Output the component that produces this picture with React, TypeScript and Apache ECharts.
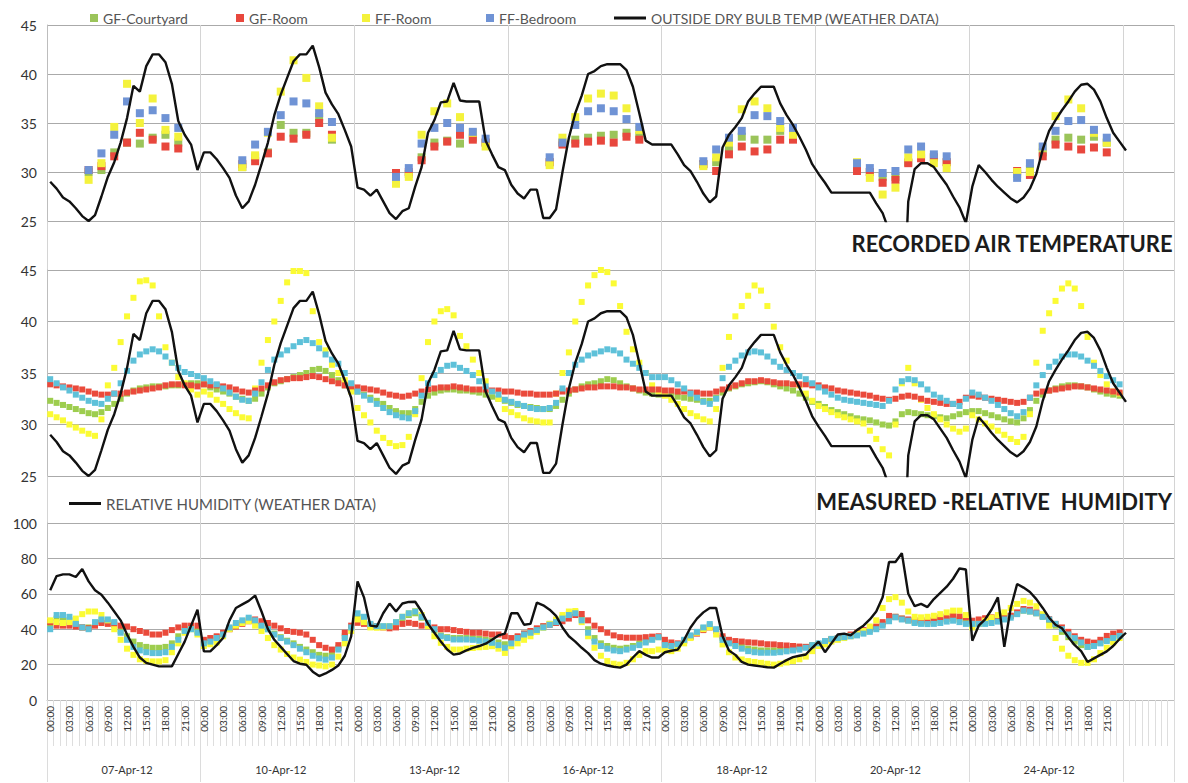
import React, { useEffect, useRef } from 'react';
import * as echarts from 'echarts';

// ---------- categories ----------
const DAYS = ['07-Apr-12', '10-Apr-12', '13-Apr-12', '16-Apr-12', '18-Apr-12', '20-Apr-12', '24-Apr-12'];
const HOUR_LABELS = [
  '00:00', '01:00', '02:00', '03:00', '04:00', '05:00', '06:00', '07:00', '08:00', '09:00', '10:00', '11:00',
  '12:00', '13:00', '14:00', '15:00', '16:00', '17:00', '18:00', '19:00', '20:00', '21:00', '22:00', '23:00',
];
const EMPTY_SLOTS = 8; // unlabeled hourly slots after the last day
const TEMP_TICKS = { min: 25, max: 45, step: 5 };
const RH_TICKS = { min: 0, max: 100, step: 20 };

// ---------- top panel: 2-hourly spot readings (°C) ----------
const SPOT_HOURS = [
  [6, 8, 10, 12, 14, 16, 18, 20],
  [6, 8, 10, 12, 14, 16, 18, 20],
  [6, 8, 10, 12, 14, 16, 18, 20],
  [6, 8, 10, 12, 14, 16, 18, 20],
  [6, 8, 10, 12, 14, 16, 18, 20],
  [6, 8, 10, 12, 14, 16, 18, 20],
  [7, 9, 11, 13, 15, 17, 19, 21],
];
const SPOT_GF_COURTYARD = [
  [30.0, 30.2, 32.0, 33.0, 32.9, 33.5, 33.8, 33.0],
  [30.5, 31.5, 32.0, 34.8, 34.0, 34.0, 35.6, 33.3],
  [29.0, 29.8, 31.5, 33.0, 33.2, 32.9, 33.5, 33.0],
  [31.0, 33.0, 33.3, 33.5, 33.7, 33.8, 34.0, 33.7],
  [30.8, 31.0, 32.5, 33.6, 33.3, 33.3, 34.2, 33.5],
  [30.5, 30.0, 29.5, 29.5, 31.0, 31.8, 31.5, 31.0],
  [29.8, 30.3, 32.0, 33.3, 33.5, 33.3, 33.6, 33.0],
];
const SPOT_GF_ROOM = [
  [30.2, 30.6, 31.6, 33.0, 34.0, 33.3, 32.6, 32.4],
  [30.8, 31.1, 31.9, 33.6, 33.4, 33.8, 35.0, 33.8],
  [29.9, 30.0, 31.2, 32.6, 33.1, 33.8, 33.3, 33.0],
  [31.0, 32.8, 32.9, 33.1, 33.2, 33.0, 33.6, 33.3],
  [30.8, 30.1, 31.8, 32.6, 32.1, 32.3, 33.3, 33.3],
  [30.1, 30.0, 28.9, 29.2, 30.9, 31.4, 31.5, 31.0],
  [30.1, 29.7, 31.6, 32.8, 32.6, 32.3, 32.5, 32.0],
];
const SPOT_FF_ROOM = [
  [29.2, 30.9, 34.6, 39.0, 35.0, 37.5, 34.3, 33.6],
  [30.5, 31.7, 34.0, 38.2, 41.4, 39.6, 36.7, 33.5],
  [28.8, 29.5, 33.8, 36.2, 37.0, 35.6, 34.0, 32.6],
  [30.7, 33.5, 35.6, 37.5, 38.0, 37.8, 36.5, 34.3],
  [30.6, 31.5, 33.0, 36.4, 37.2, 36.5, 34.5, 33.8],
  [31.0, 29.4, 27.7, 28.4, 31.5, 31.8, 30.9, 30.4],
  [30.0, 30.0, 32.5, 35.7, 37.4, 36.5, 34.0, 33.0],
];
const SPOT_FF_BEDROOM = [
  [30.2, 31.9, 33.8, 37.2, 36.0, 36.3, 35.5, 34.5],
  [31.2, 32.8, 34.1, 35.8, 37.2, 37.0, 36.0, 35.1],
  [29.5, 30.4, 32.9, 34.5, 35.0, 34.5, 34.1, 33.4],
  [31.5, 33.0, 34.8, 36.2, 36.5, 36.2, 35.4, 34.6],
  [31.1, 32.3, 33.5, 34.2, 35.8, 35.7, 35.2, 34.5],
  [30.9, 30.4, 29.9, 30.1, 32.3, 32.6, 31.8, 31.6],
  [29.4, 30.9, 32.6, 34.2, 35.2, 35.3, 34.3, 33.5],
];

// ---------- outside dry bulb temperature, hourly (°C) ----------
const OUTSIDE_TEMP = [
  29, 28.3, 27.4, 27, 26.3, 25.5, 25, 25.6, 27.5, 29.5, 31, 33, 35.5, 38.8, 38.2, 40.8, 42, 42, 41.2, 39, 35.2, 33.8, 32.8, 30.2,
  32, 32, 31.3, 30.4, 29.4, 27.6, 26.3, 27, 28.7, 30.8, 33, 35.8, 37.9, 39.6, 41.3, 42, 42, 42.9, 40.7, 38.1, 36.9, 35.9, 34.3, 32.6,
  28.4, 28.2, 27.6, 28.2, 27, 25.8, 25.2, 26, 26.3, 28.5, 30.5, 34, 35.3, 37.1, 37.2, 39.1, 37.3, 37.2, 37.2, 37.2, 33.2, 31.8, 30.5, 30.2,
  28.7, 27.8, 27.3, 28.2, 28.2, 25.3, 25.3, 26.2, 30, 33.5, 36, 37.8, 40, 40.3, 40.8, 41, 41, 41, 40.4, 38.7, 36, 33.2, 32.8, 32.8,
  32.8, 32.8, 31.8, 30.7, 30.1, 29.0, 27.8, 26.9, 27.5, 32.5, 33.8, 34.6, 35.5, 37.2, 38, 38.7, 38.7, 38.7, 37, 35.8, 34.8, 33.6, 32.3, 30.8,
  29.8, 28.9, 27.9, 27.9, 27.9, 27.9, 27.9, 27.9, 27.9, 26.8, 25.8, 24, 12, 12, 27, 30.3, 30.9, 30.9, 30.5, 29.6, 28.7, 27.5, 26.4, 24.8,
  28.5, 30.7, 30, 29.2, 28.5, 27.9, 27.3, 26.9, 27.4, 28.3, 29.8, 32.3, 34.2, 35.3, 36.3, 37.2, 38.2, 38.9, 39.0, 38.4, 37.2, 35.5, 34.0, 33.1,
  32.2,
];

// ---------- middle panel: hourly air temperature (°C) ----------
const GF_COURTYARD_T = [
  32.3, 32.1, 31.9, 31.7, 31.5, 31.3, 31.1, 31.0, 31.2, 31.6, 32.0, 32.5, 33.0, 33.3, 33.5, 33.6, 33.7, 33.7, 33.7, 33.8, 33.8, 33.9, 34.0, 34.0,
  33.9, 33.6, 33.4, 33.2, 33.0, 32.7, 32.5, 32.3, 32.5, 33.0, 33.6, 34.0, 34.2, 34.4, 34.6, 34.8, 35.0, 35.3, 35.4, 35.2, 34.8, 34.3, 33.8, 33.4,
  33.2, 32.9, 32.6, 32.3, 32.0, 31.6, 31.3, 31.1, 31.1, 31.5, 32.2, 32.8, 33.1, 33.3, 33.4, 33.4, 33.3, 33.3, 33.2, 33.1, 32.9, 32.7, 32.5, 32.3,
  32.1, 31.9, 31.8, 31.7, 31.6, 31.5, 31.5, 31.8, 32.4, 33.0, 33.4, 33.7, 33.9, 34.0, 34.2, 34.4, 34.3, 34.0, 33.7, 33.5, 33.3, 33.1, 33.0, 32.9,
  32.9, 32.8, 32.7, 32.6, 32.5, 32.4, 32.3, 32.3, 32.6, 33.1, 33.5, 33.7, 33.9, 34.0, 34.1, 34.2, 34.1, 33.9, 33.7, 33.5, 33.3, 33.0, 32.6, 32.2,
  32.0, 31.7, 31.4, 31.2, 31.0, 30.8, 30.6, 30.5, 30.4, 30.2, 30.0, 29.9, 30.3, 31.0, 31.2, 31.1, 31.0, 30.9, 30.8, 30.7, 30.6, 30.8, 31.0, 31.2,
  31.3, 31.3, 31.1, 30.9, 30.7, 30.5, 30.3, 30.2, 30.6, 31.4, 32.3, 32.9, 33.3, 33.5, 33.7, 33.8, 33.8, 33.7, 33.6, 33.4, 33.2, 33.0, 32.9, 32.8,
];
const GF_ROOM_T = [
  33.9, 33.8, 33.7, 33.6, 33.5, 33.4, 33.2, 33.0, 32.9, 32.9, 33.0, 33.0, 33.1, 33.2, 33.3, 33.4, 33.5, 33.6, 33.8, 33.9, 33.9, 33.8, 33.8, 33.7,
  33.9, 33.8, 33.8, 33.7, 33.6, 33.4, 33.2, 33.1, 33.3, 33.5, 33.8, 34.1, 34.3, 34.4, 34.5, 34.5, 34.6, 34.7, 34.6, 34.4, 34.2, 34.0, 33.8, 33.7,
  33.6, 33.5, 33.4, 33.3, 33.1, 32.9, 32.8, 32.7, 32.8, 33.0, 33.2, 33.4, 33.5, 33.6, 33.6, 33.7, 33.6, 33.5, 33.4, 33.4, 33.4, 33.3, 33.3, 33.2,
  33.2, 33.1, 33.0, 33.0, 32.9, 32.9, 32.9, 33.0, 33.2, 33.3, 33.4, 33.5, 33.6, 33.6, 33.7, 33.7, 33.7, 33.6, 33.6, 33.5, 33.4, 33.4, 33.4, 33.4,
  33.3, 33.3, 33.2, 33.2, 33.1, 33.1, 33.0, 33.0, 33.2, 33.4, 33.6, 33.8, 34.0, 34.2, 34.2, 34.3, 34.2, 34.1, 34.0, 34.0, 33.9, 33.9, 33.9, 33.8,
  33.8, 33.6, 33.5, 33.3, 33.2, 33.1, 33.0, 32.9, 32.8, 32.6, 32.5, 32.4, 32.5, 32.7, 32.8, 32.7, 32.5, 32.3, 32.2, 32.1, 32.0, 32.0, 32.2, 32.6,
  32.8, 32.7, 32.6, 32.5, 32.4, 32.3, 32.2, 32.1, 32.2, 32.6, 33.0, 33.2, 33.3, 33.4, 33.5, 33.6, 33.7, 33.7, 33.6, 33.5, 33.4, 33.3, 33.2, 33.1,
];
const FF_ROOM_T = [
  31.0, 30.7, 30.4, 30.0, 29.7, 29.4, 29.1, 28.9, 30.5, 33.8, 35.5, 38.0, 40.5, 42.3, 43.9, 44.0, 43.5, 40.5, 37.5, 36.0, 34.6, 34.0, 33.4, 32.9,
  33.2, 32.9, 32.4, 32.0, 31.5, 31.1, 30.7, 30.6, 33.5, 36.0, 38.2, 40.0, 42.0, 43.8, 44.9, 44.9, 44.7, 41.0, 38.0, 37.2, 35.8, 35.0, 34.3, 33.2,
  31.6, 30.9, 30.2, 29.4, 28.7, 28.2, 27.9, 28.0, 28.8, 31.0, 34.5, 38.0, 40.0, 41.0, 41.2, 40.6, 38.6, 37.6, 36.3, 35.0, 34.2, 33.2, 32.5, 31.5,
  31.2, 30.9, 30.6, 30.4, 30.3, 30.2, 30.2, 33.0, 35.0, 37.0, 40.0, 41.9, 43.5, 44.5, 45.0, 44.8, 43.7, 41.5, 39.0, 37.3, 36.0, 35.0, 33.8, 33.2,
  32.8, 32.4, 32.0, 31.5, 31.1, 30.8, 30.5, 30.3, 31.5, 35.5, 38.5, 40.5, 41.5, 42.5, 43.5, 43.0, 41.5, 39.5, 37.5, 36.2, 35.0, 33.8, 33.0, 32.3,
  31.8, 31.5, 31.2, 30.9, 30.7, 30.5, 30.3, 30.1, 29.4, 28.6, 27.6, 27.0, 30.0, 34.0, 35.5, 34.0, 32.4, 31.6, 31.0, 30.5, 30.0, 29.6, 29.3, 29.6,
  30.9, 30.5, 30.1, 29.8, 29.4, 29.0, 28.6, 28.3, 28.8, 31.0, 36.0, 39.1, 40.8, 42.0, 43.2, 43.7, 43.2, 41.5, 38.5, 36.0, 34.8, 33.9, 33.2, 33.0,
];
const FF_BEDROOM_T = [
  34.4, 34.0, 33.6, 33.3, 32.9, 32.6, 32.3, 32.1, 32.0, 32.5, 33.0, 34.0, 35.2, 36.2, 36.8, 37.1, 37.3, 37.1, 36.6, 36.0, 35.5, 35.1, 34.9, 34.7,
  34.5, 34.2, 33.9, 33.5, 33.1, 32.7, 32.4, 32.3, 33.0, 34.1, 35.3, 36.3, 36.8, 37.2, 37.6, 38.0, 38.2, 37.9, 37.4, 36.8, 36.3, 35.9, 35.0, 34.0,
  33.2, 32.8, 32.4, 32.0, 31.6, 31.2, 30.9, 30.7, 30.6, 31.3, 32.8, 34.0, 34.8, 35.3, 35.7, 35.8, 35.5, 35.2, 34.8, 34.2, 33.7, 33.2, 32.9, 32.4,
  32.2, 32.0, 31.8, 31.6, 31.5, 31.5, 31.6, 32.1, 33.5, 35.0, 35.8, 36.3, 36.7, 36.9, 37.1, 37.3, 37.2, 36.9, 36.3, 35.9, 35.5, 35.0, 34.6, 34.6,
  34.6, 34.3, 33.9, 33.5, 33.0, 32.6, 32.2, 32.0, 32.5, 34.5, 35.6, 36.2, 36.7, 37.0, 37.1, 37.0, 36.6, 36.1, 35.6, 35.3, 35.0, 34.7, 34.4, 34.0,
  33.6, 33.2, 32.9, 32.6, 32.4, 32.3, 32.2, 32.1, 32.0, 31.9, 31.8, 32.3, 33.4, 34.2, 34.4, 34.3, 33.9, 33.4, 32.9, 32.6, 32.3, 32.0, 31.8, 32.5,
  33.1, 32.9, 32.6, 32.3, 31.9, 31.5, 31.1, 30.8, 31.2, 32.6, 33.8, 34.8, 35.6, 36.1, 36.6, 36.8, 36.8, 36.6, 36.2, 35.7, 35.2, 34.7, 34.3, 33.9,
];

// ---------- bottom panel: relative humidity, hourly (%) ----------
const OUTSIDE_RH = [
  62, 70, 71, 71, 69.5, 74, 67, 62, 59.5, 55, 50, 45, 37, 30, 24, 21, 20, 19, 19, 19, 26, 33, 42, 51,
  27.5, 27.5, 31, 35, 45, 52, 54, 56, 59, 50, 40, 34, 30, 26, 22, 20.5, 19.9, 16, 13.5, 15, 17, 19.5, 25, 36,
  67, 58, 42, 41.5, 49, 54.5, 50, 54.5, 55.4, 55.5, 50, 43, 38, 33, 28.5, 25.6, 26.3, 28, 29.5, 30.5, 31.8, 34, 36.5, 37.5,
  49, 49, 42.5, 43, 55, 53.5, 51, 47.5, 41, 36, 33, 29.5, 26.5, 22.5, 20.5, 19.5, 18.8, 18.3, 20, 24, 27.6, 25.5, 24, 24,
  27, 27.8, 28.5, 34, 41, 46, 49.5, 52, 52, 36, 28, 25.5, 21.5, 20, 19.5, 19, 18.5, 18.3, 20.5, 22.5, 24.2, 25, 25.7, 29.5,
  33, 27, 32, 37, 37.5, 36.5, 39.5, 42, 45.5, 50, 58, 78, 78, 83, 60, 53, 54.3, 52.5, 57, 60.5, 64, 68.5, 74.3, 73.7,
  33.5, 42, 45.5, 51, 58, 30, 52, 65.5, 63.5, 61, 57, 52, 46.5, 42.5, 40.5, 35.5, 31, 27.6, 21.5, 23.5, 25.5, 27.5, 30.5, 34.5,
  38,
];
const GF_COURTYARD_RH = [
  42, 46, 46, 45, 43, 41, 41, 43, 44.5, 44.5, 43.5, 39, 36, 33, 31, 30, 29.5, 29.5, 30, 32, 36, 40, 41, 39,
  33, 34, 35.5, 37.5, 40.5, 42.5, 44, 45.5, 44.5, 42, 40, 37.5, 35.5, 33.5, 32, 30, 28.5, 27, 25.5, 25, 26, 29.5, 36, 41,
  47, 45.5, 42.5, 41.5, 41.5, 41.5, 43.5, 46, 48, 49, 46.5, 43, 39.5, 36.5, 35.5, 35, 35, 35, 34.8, 34.5, 34, 33.5, 32.5, 31.5,
  33, 35.5, 37.5, 38.5, 40, 41.5, 43, 44.5, 46.5, 48.5, 49.5, 46, 40, 35, 32, 30.5, 29.5, 29, 29.5, 30.5, 32, 33.5, 34.5, 35.5,
  32, 31, 31.5, 33.5, 36, 38, 40.5, 42, 39.5, 35, 33, 31.5, 30, 29, 28.5, 28, 28, 28, 28.3, 28.6, 29, 29.5, 30, 31,
  31.5, 33, 34.5, 35, 35.8, 36.5, 37.2, 38.3, 39.5, 41, 43, 45.5, 47, 46, 45, 44, 43.8, 43.8, 44.3, 45, 45.8, 46.2, 45.5, 44.5,
  42, 43, 44, 44.5, 45.5, 46.5, 47.5, 49, 50.5, 50, 49, 47, 45, 42, 38.5, 35.5, 33, 31, 30, 30.8, 32.5, 34, 35.5, 37,
];
const GF_ROOM_RH = [
  44, 42, 42, 42, 41.5, 41, 40.5, 42, 43.5, 43, 42.5, 42, 41.5, 40, 39, 38, 37, 37, 38, 39.5, 41, 42, 42, 42,
  34, 35, 36, 38, 40, 41.5, 43, 44.5, 45.5, 44.5, 43.5, 42, 40.5, 39, 38.5, 38, 37, 34, 31, 29.5, 28.5, 31, 38, 42,
  43.6, 43, 42, 41.7, 41, 40.5, 41, 43, 43.6, 43, 42, 41.7, 41, 40, 40, 39.5, 38.9, 38.5, 38, 38, 37.5, 37, 37, 36,
  35, 36, 37.5, 39, 40.5, 41.7, 42.5, 43.5, 44.5, 46, 48, 48.6, 45, 42, 40, 38, 36.5, 35.5, 35.2, 35.2, 35.2, 35.5, 35.8, 36,
  34, 32.5, 32, 33.5, 35.5, 37.5, 39.5, 41, 39, 36, 34, 33.3, 33, 32.6, 32.4, 32, 31.5, 31.4, 31, 30.8, 30.5, 30.2, 30, 30.5,
  31, 33, 34, 35, 36, 37, 38, 39.5, 40.5, 41.5, 44, 47.5, 47, 46, 45.5, 45, 44.8, 45, 46, 46.7, 47.2, 47.6, 47.2, 46.7,
  44.8, 45.5, 46.2, 46.7, 47, 47.3, 47.6, 49.5, 51.4, 51, 49.5, 47.5, 45.7, 43, 41, 38.5, 36, 34, 33, 32.4, 34, 36.2, 37.5, 38.1,
];
const FF_ROOM_RH = [
  45, 44, 43.5, 44, 46, 48.5, 50, 50, 48, 45, 40, 34, 29, 25.5, 23, 22, 21.8, 21.8, 22.5, 27, 32, 38, 40, 37,
  30.5, 31.5, 32.5, 36, 40, 42, 43.5, 44.5, 42, 39, 35, 31, 28.5, 26, 24, 22.8, 21.5, 20, 19.5, 19, 20, 24.5, 32, 39,
  45.5, 44, 41, 40.8, 41, 41.7, 44, 47, 49, 50.3, 48, 41.7, 36, 32.3, 30, 28.5, 28.5, 29, 29.4, 29.8, 30, 30.4, 29, 26.6,
  30.4, 32, 34, 36, 38.5, 40.8, 43, 45.5, 48, 50, 50.3, 44, 36, 29.5, 25, 22, 20.5, 20, 21, 23, 25.5, 27.6, 27.6, 28.5,
  28, 27.6, 29, 32, 35, 38, 40, 41, 37, 31.4, 27, 24, 22.9, 22, 21.5, 21, 20.5, 20, 20.5, 21.2, 22, 23, 24.5, 27.6,
  30.5, 31.4, 33, 34, 35, 36, 37.5, 39, 41.5, 45, 52, 57, 58.1, 55, 50, 47, 46.7, 47, 47.6, 48.5, 49.5, 50.5, 50.5, 48,
  41, 43, 44.8, 46.5, 48, 49.5, 52, 54.3, 56, 55, 53, 48.5, 42, 35, 29, 25, 22.5, 21, 21, 23, 26.5, 29.5, 32.5, 35,
];
const FF_BEDROOM_RH = [
  40, 48, 48, 47, 43, 41, 40, 44, 45.5, 45.5, 44, 38, 34, 30, 28, 27, 26.5, 26.5, 27, 30, 34, 39, 40, 38,
  32, 33, 35, 37, 41, 43.5, 45, 46.5, 45, 42, 40, 37, 35, 33, 31, 29, 27, 25, 23.5, 22.8, 24, 28.5, 35, 41,
  49, 47, 43, 41.7, 41.7, 41.7, 44, 47, 49, 50, 47, 43.6, 40, 36, 35, 34.2, 34.2, 34.2, 34, 33.5, 33, 32.3, 31, 29.5,
  32, 35, 37, 38, 39.5, 41, 42.5, 44, 46, 48, 49, 45, 38, 33, 30.5, 29, 28, 27.6, 28.5, 29.5, 31, 32.5, 34, 35.5,
  31, 30.5, 31.5, 34, 36.5, 38.5, 41, 42.9, 40, 34, 32, 30.5, 29, 27.6, 27, 26.7, 26.7, 26.7, 27, 27.5, 28, 28.5, 29.5, 31,
  32, 33.3, 34.5, 35, 35.5, 36, 36.5, 37.5, 38.5, 40, 42, 44.5, 46.7, 45.5, 44.8, 43.5, 43, 42.9, 43, 43.5, 44.3, 44.8, 44, 43,
  43, 43, 43, 43.5, 44.3, 45.5, 46.5, 48.5, 50.5, 50, 49, 47, 45.5, 43, 40, 37, 35, 32.5, 30, 30.5, 32, 33.3, 35, 36.2,
];

// ---------- layout / style ----------
const FONT = 'Lato, "Noto Sans", "DejaVu Sans", sans-serif';
const W = 1188;
const H = 783;
const LEFT = 47;
const RIGHT = 14;
const HOURS = 24;
const DATA_SLOTS = DAYS.length * HOURS;
const CAT_COUNT = DATA_SLOTS + EMPTY_SLOTS;

const CATS = Array.from({ length: CAT_COUNT }, (_, i) => (i < DATA_SLOTS ? HOUR_LABELS[i % HOURS] : ''));
const DAY_CATS = Array.from({ length: CAT_COUNT }, (_, i) =>
  i < DATA_SLOTS && i % HOURS === 12 ? DAYS[Math.floor(i / HOURS)] : ''
);

function spot(values: number[][]) {
  const out: (number | null)[] = new Array(CAT_COUNT).fill(null);
  values.forEach((dayVals, d) => {
    dayVals.forEach((v, j) => {
      out[d * HOURS + SPOT_HOURS[d][j]] = v;
    });
  });
  return out;
}

const C_TOP = { green: '#9bc45a', red: '#e8473d', yellow: '#f4f23c', blue: '#6f93d5' };
const C_LOW = { green: '#9dcd4e', red: '#ea4a3b', yellow: '#fbfb34', cyan: '#5ec1d9' };
const GRID_H = '#aaaaaa';
const GRID_V = '#d4d4d4';
const LABEL = '#333333';

function hiddenX(gridIndex: number) {
  return {
    type: 'category', gridIndex, data: CATS, boundaryGap: true,
    axisLine: { show: false }, axisTick: { show: false }, axisLabel: { show: false }, splitLine: { show: false },
  };
}
function valueY(gridIndex: number, t: { min: number; max: number; step: number }) {
  return {
    type: 'value', gridIndex, min: t.min, max: t.max, interval: t.step,
    axisLine: { show: true, lineStyle: { color: '#bdbdbd' } },
    axisTick: { show: false },
    axisLabel: { color: LABEL, fontSize: 14, fontFamily: FONT, margin: 10 },
    splitLine: { show: true, lineStyle: { color: GRID_H, width: 1 } },
  };
}
function dots(name: string, data: any[], color: string, xi: number, size: number) {
  return {
    name, type: 'scatter', xAxisIndex: xi, yAxisIndex: xi, data, symbol: 'rect', symbolSize: size,
    itemStyle: { color, opacity: 1 }, z: 3,
  };
}
function blackLine(name: string, data: number[], xi: number) {
  return {
    name, type: 'line', xAxisIndex: xi, yAxisIndex: xi, data, symbol: 'none', showSymbol: false,
    clip: true, lineStyle: { color: '#111', width: 2.4 }, itemStyle: { color: '#111' }, z: 5,
  };
}

const legendBase = {
  orient: 'horizontal', itemWidth: 8, itemHeight: 8, icon: 'rect', padding: 0, selectedMode: false,
  textStyle: { fontSize: 14, color: '#555555', fontFamily: FONT },
};
const titleStyle = { fontSize: 22, fontWeight: 'bold', color: '#1c1c1c', fontFamily: FONT };

export default function App() {
  const ref = useRef<HTMLDivElement>(null);
  useEffect(() => {
    if (!ref.current) return;
    const chart = echarts.init(ref.current, undefined, { renderer: 'svg' });
    const option: any = {
      animation: false,
      backgroundColor: '#ffffff',
      textStyle: { fontFamily: FONT },
      title: [
        { text: 'RECORDED AIR TEMPERATURE', right: RIGHT, top: 232, padding: 0, textStyle: titleStyle },
        { text: 'MEASURED -RELATIVE  HUMIDITY', right: RIGHT + 2, top: 490, padding: 0, textStyle: titleStyle },
      ],
      legend: [
        { ...legendBase, data: ['GF-Courtyard'], left: 90, top: 11 },
        { ...legendBase, data: ['GF-Room'], left: 236, top: 11 },
        { ...legendBase, data: ['FF-Room'], left: 362, top: 11 },
        { ...legendBase, data: ['FF-Bedroom'], left: 486, top: 11 },
        { ...legendBase, data: ['OUTSIDE DRY BULB TEMP (WEATHER DATA)'], left: 614, top: 11, itemWidth: 32, itemHeight: 3 },
        {
          ...legendBase, data: ['RELATIVE HUMIDITY (WEATHER DATA)'], left: 69, top: 496, itemWidth: 32, itemHeight: 3,
          textStyle: { ...legendBase.textStyle, fontSize: 15 },
        },
      ],
      grid: [
        { left: LEFT, right: RIGHT, top: 25, height: 196 },
        { left: LEFT, right: RIGHT, top: 270, height: 206 },
        { left: LEFT, right: RIGHT, top: 523, height: 177 },
        { left: LEFT, right: RIGHT, top: 25, height: 675 },
      ],
      xAxis: [
        hiddenX(0),
        hiddenX(1),
        {
          type: 'category', gridIndex: 2, data: CATS, boundaryGap: true,
          axisLine: { show: true, lineStyle: { color: '#bdbdbd' } },
          axisTick: { show: true, interval: 0, length: 46, lineStyle: { color: '#dedede' } },
          axisLabel: { interval: 2, rotate: 90, fontSize: 10, color: LABEL, fontFamily: FONT, margin: 6 },
          splitLine: { show: false },
        },
        {
          type: 'category', gridIndex: 2, data: DAY_CATS, boundaryGap: true, position: 'bottom',
          axisLine: { show: false },
          axisTick: { show: true, length: 82, interval: (i: number) => i % HOURS === 0 && i <= DATA_SLOTS, lineStyle: { color: '#dcdcdc' } },
          axisLabel: {
            interval: (i: number) => i < DATA_SLOTS && i % HOURS === 12,
            fontSize: 11, color: LABEL, fontFamily: FONT, margin: 64,
          },
          splitLine: { show: false },
        },
        {
          type: 'category', gridIndex: 3, data: CATS, boundaryGap: true, z: 0,
          axisLine: { show: false }, axisTick: { show: false }, axisLabel: { show: false },
          splitLine: { show: true, interval: (i: number) => i % HOURS === 0 && i <= DATA_SLOTS, lineStyle: { color: GRID_V, width: 1 } },
        },
      ],
      yAxis: [
        valueY(0, TEMP_TICKS),
        valueY(1, TEMP_TICKS),
        valueY(2, RH_TICKS),
        { ...valueY(2, RH_TICKS), show: false, splitLine: { show: false } },
        { type: 'value', gridIndex: 3, show: false, min: 0, max: 1, splitLine: { show: false } },
      ],
      series: [
        // top panel
        dots('GF-Courtyard', spot(SPOT_GF_COURTYARD), C_TOP.green, 0, 8),
        dots('GF-Room', spot(SPOT_GF_ROOM), C_TOP.red, 0, 8),
        dots('FF-Room', spot(SPOT_FF_ROOM), C_TOP.yellow, 0, 8),
        dots('FF-Bedroom', spot(SPOT_FF_BEDROOM), C_TOP.blue, 0, 8),
        blackLine('OUTSIDE DRY BULB TEMP (WEATHER DATA)', OUTSIDE_TEMP, 0),
        // middle panel
        dots('GF-Courtyard (hourly)', GF_COURTYARD_T, C_LOW.green, 1, 6),
        dots('FF-Room (hourly)', FF_ROOM_T, C_LOW.yellow, 1, 6),
        dots('GF-Room (hourly)', GF_ROOM_T, C_LOW.red, 1, 6),
        dots('FF-Bedroom (hourly)', FF_BEDROOM_T, C_LOW.cyan, 1, 6),
        blackLine('Outside temperature (hourly)', OUTSIDE_TEMP, 1),
        // bottom panel
        dots('GF-Courtyard RH', GF_COURTYARD_RH, C_LOW.green, 2, 6),
        dots('GF-Room RH', GF_ROOM_RH, C_LOW.red, 2, 6),
        dots('FF-Room RH', FF_ROOM_RH, C_LOW.yellow, 2, 6),
        dots('FF-Bedroom RH', FF_BEDROOM_RH, C_LOW.cyan, 2, 6),
        blackLine('RELATIVE HUMIDITY (WEATHER DATA)', OUTSIDE_RH, 2),
      ],
    };
    chart.setOption(option);
    return () => chart.dispose();
  }, []);
  return <div ref={ref} style={{ position: 'absolute', left: 0, top: 0, width: W, height: H, background: '#fff' }} />;
}
